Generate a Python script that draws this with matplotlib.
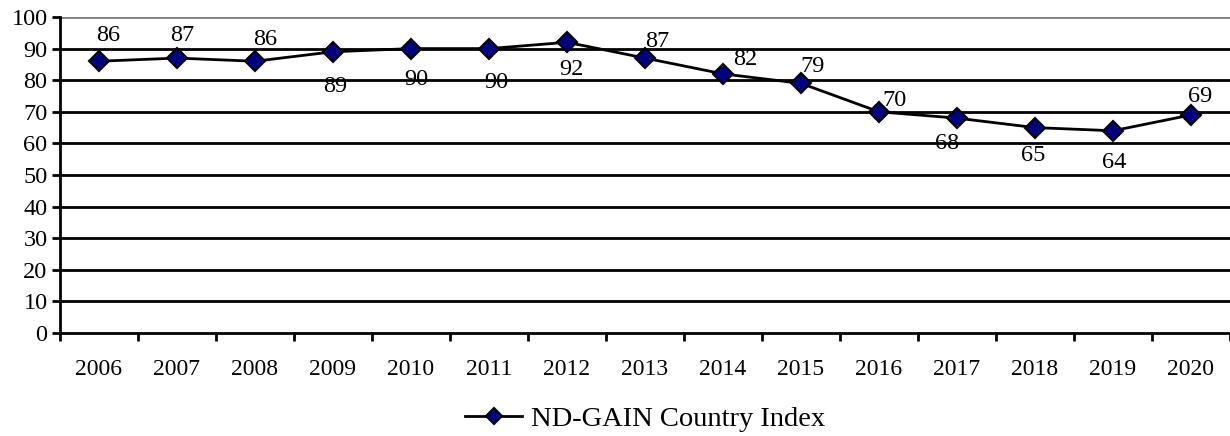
import matplotlib
matplotlib.use("Agg")
import matplotlib.pyplot as plt
from matplotlib.ticker import FixedLocator

plt.rcParams['font.family'] = ['Liberation Serif', 'DejaVu Serif']

years = ['2006', '2007', '2008', '2009', '2010', '2011', '2012', '2013',
         '2014', '2015', '2016', '2017', '2018', '2019', '2020']
index_values = [86, 87, 86, 89, 90, 90, 92, 87, 82, 79, 70, 68, 65, 64, 69]
series_name = 'ND-GAIN Country Index'
y_ticks = list(range(0, 101, 10))

# label offsets in pixels (dx, dy upward positive)
label_offsets = [(9, 26), (5, 23), (10, 22), (2, -35), (5, -31), (7, -34),
                 (4, -27), (12, 17), (22, 14), (12, 17), (16, 11), (-10, -25),
                 (-2, -28), (1, -32), (9, 18)]

fig = plt.figure(figsize=(12.3, 4.36), dpi=100)
ax = fig.add_axes([60/1230, 1-333/436, 1-60/1230, (333-17)/436])

x = list(range(len(years)))
ax.set_xlim(-0.5, len(years) - 0.5)
ax.set_ylim(0, 100)

for yv in y_ticks[1:]:
    ax.axhline(yv, color='#808080' if yv == 100 else 'black', lw=2, zorder=1)

line, = ax.plot(x, index_values, color='black', lw=2, marker='D', markersize=10,
                markerfacecolor='#000080', markeredgecolor='black', markeredgewidth=1.5,
                zorder=3, label=series_name)

for xi, v, (dx, dy) in zip(x, index_values, label_offsets):
    ax.annotate(str(v), (xi, v), xytext=(dx * 0.72, dy * 0.72), textcoords='offset points',
                ha='center', va='center', fontsize=17.5, zorder=4)

for s in ['top', 'right']:
    ax.spines[s].set_visible(False)
ax.spines['left'].set_linewidth(2)
ax.spines['bottom'].set_linewidth(2)

ax.set_yticks(y_ticks)
ax.tick_params(axis='y', length=6, width=2, labelsize=17.5, pad=3)
ax.set_xticks(x)
ax.set_xticklabels(years)
ax.tick_params(axis='x', which='major', length=0, labelsize=17, pad=19)
ax.xaxis.set_minor_locator(FixedLocator([i - 0.5 for i in range(len(years) + 1)]))
ax.tick_params(axis='x', which='minor', length=6, width=2)

fig.legend(handles=[line], loc='center', bbox_to_anchor=(645/1230, 1-419/436),
           frameon=False, fontsize=20.5, handlelength=2.0, handletextpad=0.3,
           borderaxespad=0, markerscale=0.85)

fig.savefig('out.png', dpi=100)
